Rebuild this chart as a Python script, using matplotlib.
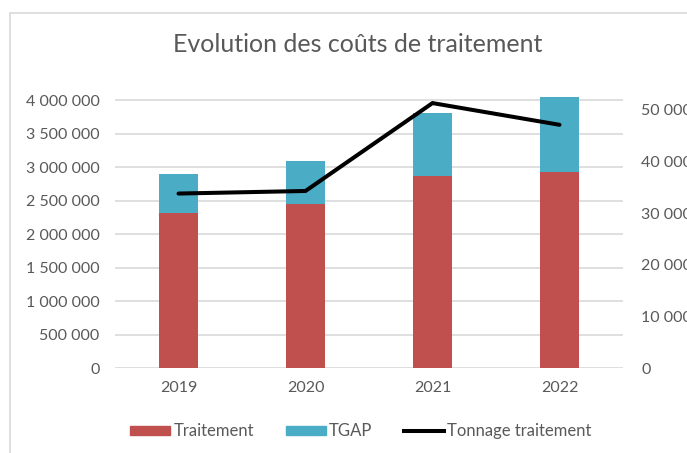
import numpy as np
import matplotlib.pyplot as plt
from matplotlib.patches import Rectangle, Patch
from matplotlib.lines import Line2D
from matplotlib.ticker import FuncFormatter, MultipleLocator

years = ['2019', '2020', '2021', '2022']
traitement = [2310000, 2455000, 2870000, 2930000]
tgap = [590000, 630000, 935000, 1110000]
tonnage = [33800, 34300, 51300, 47100]

RED = '#C0504D'
TEAL = '#4BACC6'
GREY = '#595959'
GRID = '#D9D9D9'


def fmt_space(v, pos):
    return f"{int(round(v)):,}".replace(',', ' ')


def main():
    plt.rcParams['font.family'] = ['Lato', 'DejaVu Sans']
    fig = plt.figure(figsize=(6.87, 4.53), dpi=100)

    # chart border (cropped on right/bottom in the original)
    fig.patches.append(Rectangle((10 / 687, -0.1), 1.2, 1.1 - 13 / 453,
                                 transform=fig.transFigure, fill=False,
                                 edgecolor=GRID, linewidth=1.2))

    ax = fig.add_axes([115 / 687, (453 - 368.3) / 453, 508 / 687, 272.3 / 453])
    x = np.arange(len(years))
    width = 0.31

    ax.bar(x, traitement, width, color=RED, label='Traitement', zorder=2)
    ax.bar(x, tgap, width, bottom=traitement, color=TEAL, label='TGAP', zorder=2)

    ax.set_xlim(-0.5, 3.5)
    ax.set_ylim(0, 4.06e6)
    ax.yaxis.set_major_locator(MultipleLocator(500000))
    ax.yaxis.set_major_formatter(FuncFormatter(fmt_space))
    ax.set_xticks(x)
    ax.set_xticklabels(years)
    ax.grid(axis='y', color=GRID, linewidth=1.2, zorder=0)
    ax.set_axisbelow(True)
    for s in ax.spines.values():
        s.set_visible(False)
    ax.tick_params(length=0, colors=GREY, labelsize=11.5)
    ax.tick_params(axis='y', pad=11)
    ax.tick_params(axis='x', pad=9)

    ax2 = ax.twinx()
    ax2.plot(x, tonnage, color='black', linewidth=2.9, solid_capstyle='round',
             solid_joinstyle='miter', zorder=3)
    ax2.set_ylim(0, 52670)
    ax2.yaxis.set_major_locator(MultipleLocator(10000))
    ax2.yaxis.set_major_formatter(FuncFormatter(fmt_space))
    for s in ax2.spines.values():
        s.set_visible(False)
    ax2.tick_params(length=0, colors=GREY, labelsize=11.5, pad=13)

    fig.text(358 / 687, 1 - 45 / 453, 'Evolution des coûts de traitement',
             ha='center', va='center', fontsize=18, color=GREY)

    handles = [Patch(color=RED), Patch(color=TEAL),
               Line2D([], [], color='black', linewidth=2.9)]
    fig.legend(handles, ['Traitement', 'TGAP', 'Tonnage traitement'],
               loc='center', bbox_to_anchor=(361 / 687, 1 - 431 / 453), ncol=3,
               frameon=False, fontsize=12, labelcolor=GREY,
               handlelength=2.4, handleheight=0.45, handletextpad=0.2,
               columnspacing=1.9)

    fig.savefig('out.png', dpi=100)


if __name__ == "__main__":
    main()
